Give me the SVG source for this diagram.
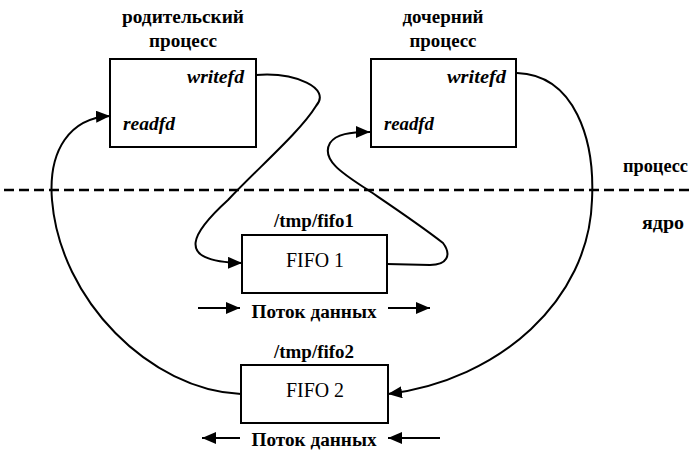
<svg xmlns="http://www.w3.org/2000/svg" width="691" height="451" viewBox="0 0 691 451">
  <style>
    .box { fill: #fff; stroke: #000; stroke-width: 2; }
    .wire { fill: none; stroke: #000; stroke-width: 2; }
    .title { font-family: "Liberation Serif", "Times New Roman", serif; font-weight: bold; font-size: 18px; fill: #000; }
    .fd { font-family: "Liberation Serif", "Times New Roman", serif; font-weight: bold; font-style: italic; font-size: 18px; fill: #000; }
    .fifo { font-family: "Liberation Serif", "Times New Roman", serif; font-size: 20px; fill: #000; }
    .sep { stroke: #000; stroke-width: 2.5; stroke-dasharray: 10 5; }
  </style>
  <defs>
    <marker id="arrow" markerUnits="userSpaceOnUse" markerWidth="16" markerHeight="14" refX="14" refY="6" orient="auto">
      <path d="M0,0 L14,6 L0,12 Z" fill="#000"/>
    </marker>
  </defs>

  <rect width="691" height="451" fill="#fff"/>

  <!-- user / kernel boundary -->
  <line class="sep" x1="4" y1="190" x2="691" y2="190"/>
  <text class="title" x="623" y="172" textLength="65" lengthAdjust="spacingAndGlyphs">процесс</text>
  <text class="title" x="642" y="229" textLength="42" lengthAdjust="spacingAndGlyphs">ядро</text>

  <!-- parent process -->
  <g id="parent">
    <text class="title" x="183" y="23" text-anchor="middle" textLength="122" lengthAdjust="spacingAndGlyphs">родительский</text>
    <text class="title" x="183" y="47" text-anchor="middle" textLength="68" lengthAdjust="spacingAndGlyphs">процесс</text>
    <rect class="box" x="110" y="59" width="146" height="88"/>
    <text class="fd" x="187" y="83" textLength="57" lengthAdjust="spacingAndGlyphs">writefd</text>
    <text class="fd" x="123" y="130" textLength="52" lengthAdjust="spacingAndGlyphs">readfd</text>
  </g>

  <!-- child process -->
  <g id="child">
    <text class="title" x="443" y="23" text-anchor="middle" textLength="81" lengthAdjust="spacingAndGlyphs">дочерний</text>
    <text class="title" x="443" y="47" text-anchor="middle" textLength="67" lengthAdjust="spacingAndGlyphs">процесс</text>
    <rect class="box" x="371" y="59" width="145" height="88"/>
    <text class="fd" x="447" y="83" textLength="59" lengthAdjust="spacingAndGlyphs">writefd</text>
    <text class="fd" x="384" y="130" textLength="50" lengthAdjust="spacingAndGlyphs">readfd</text>
  </g>

  <!-- FIFO 1 -->
  <g id="fifo1">
    <text class="title" x="314" y="227" text-anchor="middle" textLength="80" lengthAdjust="spacingAndGlyphs">/tmp/fifo1</text>
    <rect class="box" x="242" y="235" width="145" height="58"/>
    <text class="fifo" x="315" y="267" text-anchor="middle" textLength="58" lengthAdjust="spacingAndGlyphs">FIFO 1</text>
    <line class="wire" x1="198" y1="308" x2="240" y2="308" marker-end="url(#arrow)"/>
    <text class="title" x="314" y="318" text-anchor="middle" textLength="125" lengthAdjust="spacingAndGlyphs">Поток данных</text>
    <line class="wire" x1="388" y1="308" x2="430" y2="308" marker-end="url(#arrow)"/>
  </g>

  <!-- FIFO 2 -->
  <g id="fifo2">
    <text class="title" x="314" y="358" text-anchor="middle" textLength="80" lengthAdjust="spacingAndGlyphs">/tmp/fifo2</text>
    <rect class="box" x="241" y="365" width="147" height="58"/>
    <text class="fifo" x="315" y="397" text-anchor="middle" textLength="58" lengthAdjust="spacingAndGlyphs">FIFO 2</text>
    <line class="wire" x1="240" y1="438" x2="202" y2="438" marker-end="url(#arrow)"/>
    <text class="title" x="314" y="446" text-anchor="middle" textLength="125" lengthAdjust="spacingAndGlyphs">Поток данных</text>
    <line class="wire" x1="440" y1="438" x2="388" y2="438" marker-end="url(#arrow)"/>
  </g>

  <!-- pipes between processes and FIFOs -->
  <g id="connectors">
    <!-- parent writefd -> FIFO 1 -->
    <path class="wire" d="M256,75 C295,72 332,88 316,106 C300,132 258,168 228,200 C195,230 170,262 242,263" marker-end="url(#arrow)"/>
    <!-- FIFO 1 -> child readfd -->
    <path class="wire" d="M387,264 L430,265 C447,265 452,255 443,243 C420,225 390,205 368,190 C345,175 320,160 330,143 C336,134 350,132 370,132" marker-end="url(#arrow)"/>
    <!-- child writefd -> FIFO 2 -->
    <path class="wire" d="M517,73 C575,75 595,140 592,200 C589,300 500,380 388,394" marker-end="url(#arrow)"/>
    <!-- FIFO 2 -> parent readfd -->
    <path class="wire" d="M241,394 C150,390 60,300 52,200 C48,150 70,118 110,116" marker-end="url(#arrow)"/>
  </g>
</svg>
